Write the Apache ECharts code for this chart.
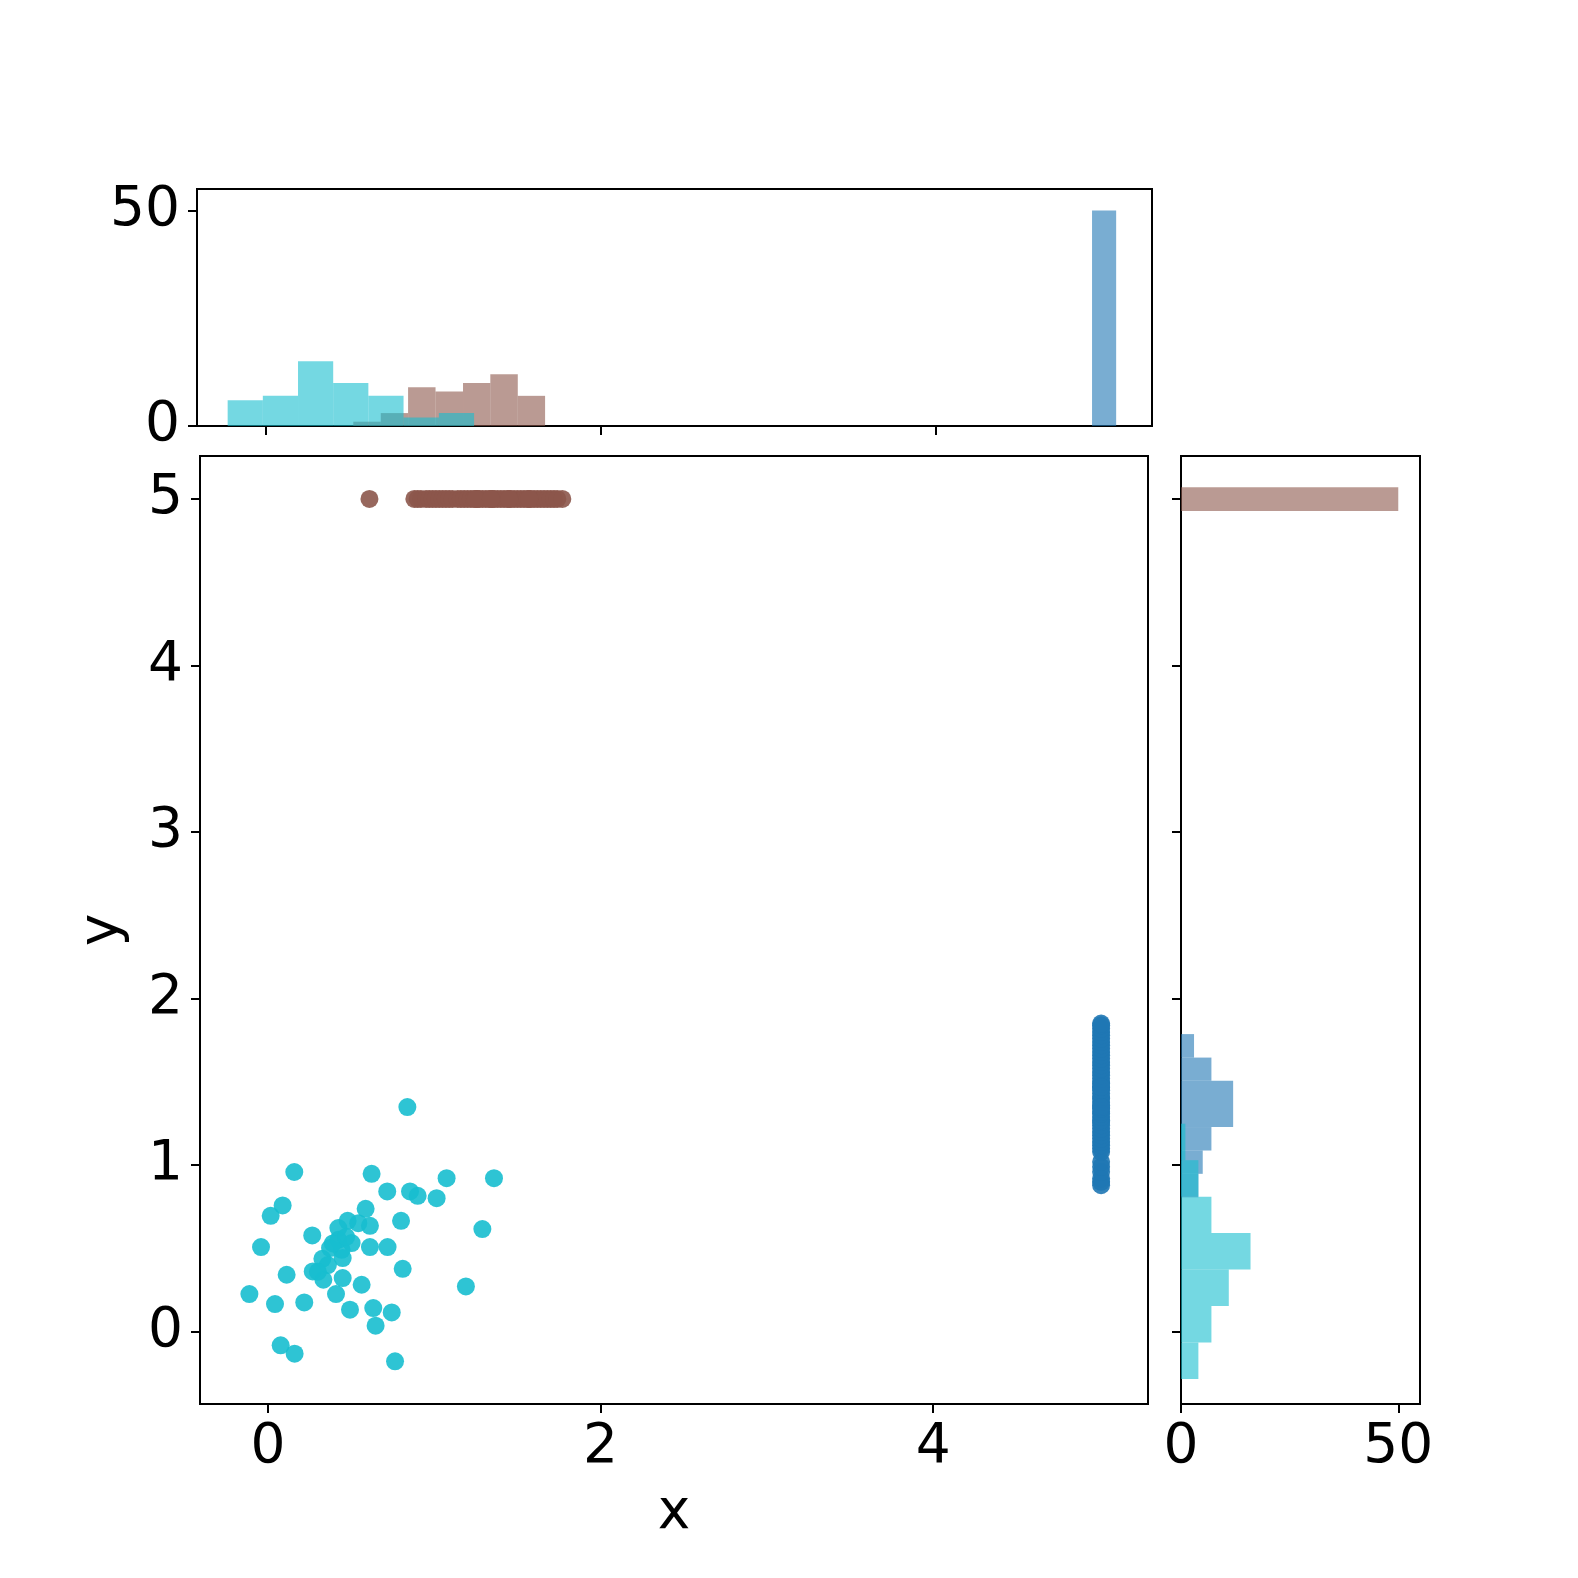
<!DOCTYPE html>
<html>
<head>
<meta charset="utf-8">
<script src="https://cdn.jsdelivr.net/npm/echarts@6/dist/echarts.min.js"></script>
<style>html,body{margin:0;padding:0;background:#fff}#c{width:1578px;height:1578px}</style>
</head>
<body>
<div id="c"></div>
<script>
// ---- scatter data ----
const cyanX = [0.158,0.623,1.074,1.359,0.717,0.854,0.900,1.014,0.088,0.016,0.587,0.479,0.543,0.613,0.800,1.289,0.423,0.266,-0.042,0.373,0.423,0.443,0.503,0.613,0.719,0.327,0.449,0.810,0.112,0.269,0.333,0.449,0.563,1.190,-0.112,0.409,0.042,0.218,0.493,0.633,0.744,0.647,0.076,0.160,0.764,0.838,0.390,0.360,0.300,0.470];
const cyanY = [0.959,0.948,0.922,0.922,0.842,0.842,0.816,0.802,0.758,0.696,0.738,0.666,0.652,0.636,0.666,0.616,0.622,0.578,0.508,0.502,0.552,0.492,0.532,0.508,0.508,0.438,0.442,0.378,0.342,0.362,0.312,0.322,0.282,0.272,0.226,0.226,0.166,0.176,0.132,0.142,0.116,0.036,-0.082,-0.132,-0.178,1.349,0.530,0.400,0.360,0.570];
const blueX = 5.01;
const blueY = [0.88,0.90,0.92,0.96,0.99,1.02,1.08,1.10,1.12,1.14,1.16,1.18,1.20,1.22,1.24,1.26,1.27,1.29,1.31,1.32,1.34,1.36,1.38,1.40,1.41,1.43,1.45,1.47,1.49,1.50,1.52,1.54,1.56,1.58,1.60,1.62,1.64,1.66,1.68,1.70,1.72,1.74,1.76,1.78,1.80,1.82,1.84,1.85,1.47,1.35];
const brownX = [0.61,0.88,0.90,0.92,0.95,0.97,0.99,1.01,1.03,1.05,1.07,1.09,1.11,1.14,1.16,1.18,1.20,1.22,1.24,1.26,1.27,1.29,1.31,1.33,1.35,1.36,1.38,1.40,1.42,1.44,1.46,1.48,1.50,1.52,1.54,1.56,1.58,1.60,1.62,1.64,1.66,1.68,1.70,1.72,1.74,1.77,1.25,1.34,1.45,1.57];
const brownY = 5.0;

// ---- marginal histograms (bin edges + counts) ----
const topCyanEdges = [-0.226,-0.016,0.194,0.404,0.614,0.824,1.035,1.245];
const topCyanCounts = [6,7,15,10,7,2,3];
const topBrownEdges = [0.524,0.688,0.851,1.015,1.179,1.342,1.506,1.669];
const topBrownCounts = [1,3,9,8,10,12,7];
const topBlueEdges = [4.934,5.078];
const topBlueCounts = [50];

const rightCyanEdges = [-0.284,-0.065,0.154,0.373,0.592,0.811,1.030,1.249];
const rightCyanCounts = [4,7,11,16,7,4,1];
const rightBlueEdges = [0.807,0.948,1.088,1.229,1.368,1.507,1.646,1.787];
const rightBlueCounts = [4,5,7,12,12,7,3];
const rightBrownEdges = [4.928,5.070];
const rightBrownCounts = [50];

// ---- ticks ----
const xTicks = [0,2,4];
const yTicks = [0,1,2,3,4,5];
const countTicks = [0,50];

const C_CYAN = '#17becf', C_BLUE = '#1f77b4', C_BROWN = '#8c564b';
const H_CYAN = 'rgba(23,190,207,0.6)', H_BLUE = 'rgba(31,119,180,0.6)', H_BROWN = 'rgba(140,86,75,0.6)';

const FONT = 'DejaVu Sans';
const FS = 55;

function bins(edges, counts){ return counts.map((c,i)=>[edges[i], edges[i+1], c]); }

function vHist(color){
  return function(params, api){
    const p0 = api.coord([api.value(0), 0]);
    const p1 = api.coord([api.value(1), api.value(2)]);
    return {type:'rect', shape:{x:p0[0], y:p1[1], width:p1[0]-p0[0], height:p0[1]-p1[1]}, style:{fill:color}};
  };
}
function hHist(color){
  return function(params, api){
    const p0 = api.coord([0, api.value(0)]);
    const p1 = api.coord([api.value(2), api.value(1)]);
    return {type:'rect', shape:{x:p0[0], y:p1[1], width:p1[0]-p0[0], height:p0[1]-p1[1]}, style:{fill:color}};
  };
}

const tick = {show:true, length:9, lineStyle:{color:'#000', width:2}};
const lbl = {fontFamily:FONT, fontSize:FS, color:'#000'};
const noLine = {show:false, onZero:false};

const XMIN = -0.409, XMAX = 5.292, YMIN = -0.434, YMAX = 5.258;

const option = {
  animation:false,
  backgroundColor:'#fff',
  grid:[
    {left:200, top:456, width:948, height:948, show:true, borderColor:'#000', borderWidth:2, backgroundColor:'transparent'},
    {left:197, top:189, width:955, height:237, show:true, borderColor:'#000', borderWidth:2, backgroundColor:'transparent'},
    {left:1181, top:456, width:239, height:948, show:true, borderColor:'#000', borderWidth:2, backgroundColor:'transparent'}
  ],
  xAxis:[
    {gridIndex:0, type:'value', position:'bottom', min:XMIN, max:XMAX, splitLine:{show:false}, axisLine:noLine,
     axisTick:Object.assign({customValues:xTicks}, tick),
     axisLabel:Object.assign({customValues:xTicks, margin:16, formatter:v=>String(v)}, lbl),
     name:'x', nameLocation:'middle', nameGap:82, nameTextStyle:lbl},
    {gridIndex:1, type:'value', position:'bottom', min:XMIN, max:XMAX, splitLine:{show:false}, axisLine:noLine,
     axisTick:Object.assign({customValues:xTicks}, tick),
     axisLabel:{show:false, customValues:xTicks}},
    {gridIndex:2, type:'value', position:'bottom', min:0, max:55, splitLine:{show:false}, axisLine:noLine,
     axisTick:Object.assign({customValues:countTicks}, tick),
     axisLabel:Object.assign({customValues:countTicks, margin:16, formatter:v=>String(v)}, lbl)}
  ],
  yAxis:[
    {gridIndex:0, type:'value', position:'left', min:YMIN, max:YMAX, splitLine:{show:false}, axisLine:noLine,
     axisTick:Object.assign({customValues:yTicks}, tick),
     axisLabel:Object.assign({customValues:yTicks, margin:17, formatter:v=>String(v)}, lbl),
     name:'y', nameLocation:'middle', nameGap:70, nameRotate:90, nameTextStyle:lbl},
    {gridIndex:1, type:'value', position:'left', min:0, max:55, splitLine:{show:false}, axisLine:noLine,
     axisTick:Object.assign({customValues:countTicks}, tick),
     axisLabel:Object.assign({customValues:countTicks, margin:17, formatter:v=>String(v)}, lbl)},
    {gridIndex:2, type:'value', position:'left', min:YMIN, max:YMAX, splitLine:{show:false}, axisLine:noLine,
     axisTick:Object.assign({customValues:yTicks}, tick),
     axisLabel:{show:false, customValues:yTicks}}
  ],
  series:[
    {type:'scatter', xAxisIndex:0, yAxisIndex:0, symbolSize:18, itemStyle:{color:C_CYAN, opacity:0.9},
     data: cyanX.map((x,i)=>[x, cyanY[i]])},
    {type:'scatter', xAxisIndex:0, yAxisIndex:0, symbolSize:18, itemStyle:{color:C_BLUE, opacity:0.9},
     data: blueY.map(y=>[blueX, y])},
    {type:'scatter', xAxisIndex:0, yAxisIndex:0, symbolSize:18, itemStyle:{color:C_BROWN, opacity:0.9},
     data: brownX.map(x=>[x, brownY])},
    // top histograms
    {type:'custom', xAxisIndex:1, yAxisIndex:1, renderItem:vHist(H_BLUE), encode:{x:[0,1], y:2}, data:bins(topBlueEdges, topBlueCounts)},
    {type:'custom', xAxisIndex:1, yAxisIndex:1, renderItem:vHist(H_BROWN), encode:{x:[0,1], y:2}, data:bins(topBrownEdges, topBrownCounts)},
    {type:'custom', xAxisIndex:1, yAxisIndex:1, renderItem:vHist(H_CYAN), encode:{x:[0,1], y:2}, data:bins(topCyanEdges, topCyanCounts)},
    // right histograms
    {type:'custom', xAxisIndex:2, yAxisIndex:2, renderItem:hHist(H_BLUE), encode:{y:[0,1], x:2}, data:bins(rightBlueEdges, rightBlueCounts)},
    {type:'custom', xAxisIndex:2, yAxisIndex:2, renderItem:hHist(H_BROWN), encode:{y:[0,1], x:2}, data:bins(rightBrownEdges, rightBrownCounts)},
    {type:'custom', xAxisIndex:2, yAxisIndex:2, renderItem:hHist(H_CYAN), encode:{y:[0,1], x:2}, data:bins(rightCyanEdges, rightCyanCounts)}
  ]
};
const chart = echarts.init(document.getElementById('c'), null, {renderer:'canvas'});
chart.setOption(option);
</script>
</body>
</html>
